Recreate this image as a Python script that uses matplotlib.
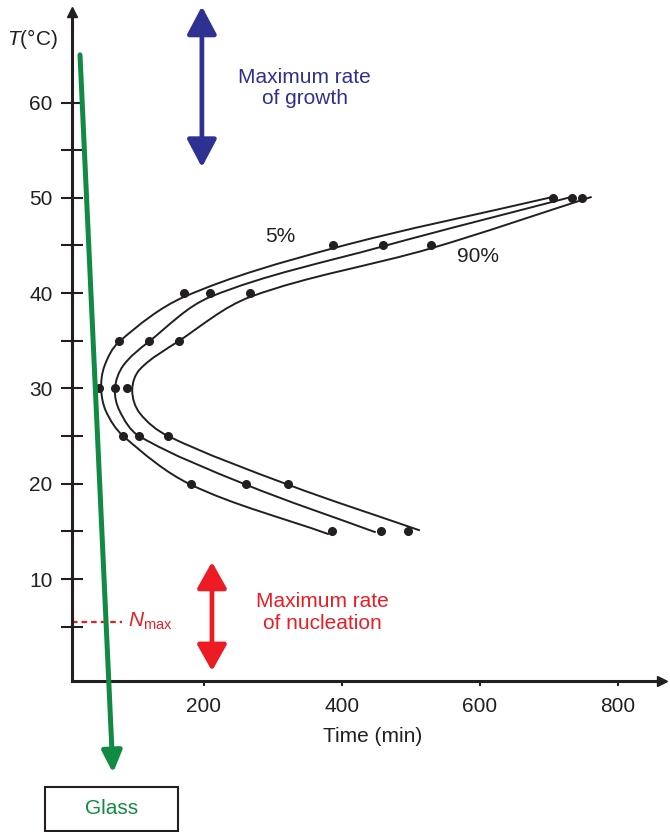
import matplotlib
matplotlib.use('Agg')
import numpy as np
import matplotlib.pyplot as plt
from matplotlib.patches import Rectangle, PathPatch
from matplotlib.path import Path

plt.rcParams['font.family'] = ['Liberation Sans', 'DejaVu Sans']
plt.rcParams['mathtext.fontset'] = 'custom'
plt.rcParams['mathtext.rm'] = 'Liberation Sans'
plt.rcParams['mathtext.it'] = 'Liberation Sans:italic'
plt.rcParams['mathtext.bf'] = 'Liberation Sans:bold'

# ---------------- data ----------------
point_temps = [15, 20, 25, 30, 35, 40, 45, 50]
points_5 = [386, 181, 83, 48, 77, 171, 387, 706]
points_50 = [457, 261, 106, 71, 120, 209, 459, 733]
points_90 = [496, 322, 148, 88, 164, 267, 529, 748]

# smooth transformation curves (temperature, time)
curve5_T = [14.7, 19.9, 25.0, 27.6, 30.0, 32.4, 34.9, 39.6, 44.7, 50.1]
curve5_t = [381, 181, 83, 58, 51, 56, 77, 171, 387, 706]

curve50_T = [14.9, 19.9, 25.0, 27.6, 30.0, 32.4, 34.9, 39.6, 44.9, 50.1]
curve50_t = [449, 261, 106, 78, 71, 83, 120, 209, 459, 733]

curve90_T = [15.1, 19.9, 25.0, 27.4, 29.8, 32.0, 34.9, 39.6, 44.7, 50.1]
curve90_t = [513, 322, 148, 107, 96, 107, 162, 267, 529, 762]

y_major = [10, 20, 30, 40, 50, 60]
y_minor = [5, 15, 25, 35, 45, 55]
x_major = [200, 400, 600, 800]

glass_line_t = [20.3, 68.1]
glass_line_T = [65.0, -10.35]
n_max_T = 5.5

INK = '#231f20'
GREEN = '#118a44'
BLUE = '#2e3192'
RED = '#ed1c24'

W, H = 670, 832
fig = plt.figure(figsize=(W / 100, H / 100), dpi=100)
ax = fig.add_axes([72 / W, 1 - 681 / H, (662 - 72) / W, (681 - 12) / H])
ax.set_xlim(8.7, 864)
ax.set_ylim(-0.7, 69.5)

for s in ['top', 'right']:
    ax.spines[s].set_visible(False)
for s in ['left', 'bottom']:
    ax.spines[s].set_linewidth(2.2)
    ax.spines[s].set_color(INK)

ax.set_yticks(y_major)
ax.set_yticks(y_minor, minor=True)
ax.set_xticks(x_major)
ax.tick_params(axis='y', which='both', direction='inout', length=15.8, width=1.5,
               color=INK, labelsize=15, pad=6, labelcolor=INK)
ax.tick_params(axis='x', which='both', direction='out', length=3.5, width=1.5,
               color=INK, labelsize=15, pad=8, labelcolor=INK)

# axis arrowheads
ax.plot([0], [1], marker='^', ms=7.5, color=INK, transform=ax.transAxes, clip_on=False)
ax.plot([1], [0], marker='>', ms=7.5, color=INK, transform=ax.transAxes, clip_on=False)


def smooth_curve(t, T, sx=0.69, sy=9.53):
    """Smooth Bezier path through the read curve points (rendering only)."""
    P = np.column_stack([np.asarray(t, float) * sx, np.asarray(T, float) * sy])
    n = len(P)
    tang = np.zeros_like(P)
    tang[1:-1] = P[2:] - P[:-2]
    tang[0] = P[1] - P[0]
    tang[-1] = P[-1] - P[-2]
    tang /= np.linalg.norm(tang, axis=1)[:, None]
    verts = [P[0]]
    codes = [Path.MOVETO]
    for i in range(n - 1):
        d = np.linalg.norm(P[i + 1] - P[i])
        verts += [P[i] + tang[i] * d / 3, P[i + 1] - tang[i + 1] * d / 3, P[i + 1]]
        codes += [Path.CURVE4] * 3
    V = np.array(verts) / np.array([sx, sy])
    return Path(V, codes)


# curves
for T, t in [(curve5_T, curve5_t), (curve50_T, curve50_t), (curve90_T, curve90_t)]:
    ax.add_patch(PathPatch(smooth_curve(t, T), fill=False, ec=INK, lw=1.4,
                           capstyle='butt', zorder=3))
for pts in [points_5, points_50, points_90]:
    ax.plot(pts, point_temps, 'o', ms=5.5, color=INK, zorder=4)

ax.text(310, 45.9, '5%', fontsize=15, ha='center', va='center', color=INK)
ax.text(597, 43.8, '90%', fontsize=15, ha='center', va='center', color=INK)

# green glass-forming line
ax.annotate('', xy=(glass_line_t[1], glass_line_T[1]),
            xytext=(glass_line_t[0], glass_line_T[0]),
            arrowprops=dict(arrowstyle='-|>,head_length=0.65,head_width=0.3',
                            color=GREEN, lw=3.6, shrinkA=0, shrinkB=0,
                            mutation_scale=20),
            annotation_clip=False, zorder=5)

# growth arrow
ax.annotate('', xy=(197, 70.1), xytext=(197, 53.2),
            arrowprops=dict(arrowstyle='<|-|>,head_length=0.85,head_width=0.45',
                            color=BLUE, lw=3.4, shrinkA=0, shrinkB=0,
                            mutation_scale=20),
            annotation_clip=False)
ax.text(346, 61.5, 'Maximum rate\nof growth', fontsize=15, color=BLUE,
        ha='center', va='center', multialignment='center', linespacing=1.15)

# nucleation arrow
ax.annotate('', xy=(211.6, 11.8), xytext=(211.6, 0.35),
            arrowprops=dict(arrowstyle='<|-|>,head_length=0.8,head_width=0.45',
                            color=RED, lw=3.4, shrinkA=0, shrinkB=0,
                            mutation_scale=20),
            annotation_clip=False)
ax.text(371, 6.5, 'Maximum rate\nof nucleation', fontsize=15, color=RED,
        ha='center', va='center', multialignment='center', linespacing=1.15)

# N_max
ax.plot([8.7, 81], [n_max_T, n_max_T], color=RED, lw=1.6, dashes=(2.5, 1.8), clip_on=False)
ax.text(90, n_max_T - 0.5, r'$N_{\mathrm{max}}$', fontsize=15, color=RED,
        ha='left', va='baseline')

# axis titles
fig.text(7 / W, 1 - 45 / H, r'$T$(°C)', fontsize=15, ha='left', va='baseline', color=INK)
fig.text(373 / W, 1 - 737 / H, 'Time (min)', fontsize=15, ha='center', va='center', color=INK)

# Glass box
fig.add_artist(Rectangle((45 / W, 1 - 831 / H), 133 / W, 44 / H, transform=fig.transFigure,
                         fill=False, ec=INK, lw=1.5))
fig.text(112 / W, 1 - 809 / H, 'Glass', fontsize=15, color=GREEN, ha='center', va='center')

fig.savefig('out.png', dpi=100)
